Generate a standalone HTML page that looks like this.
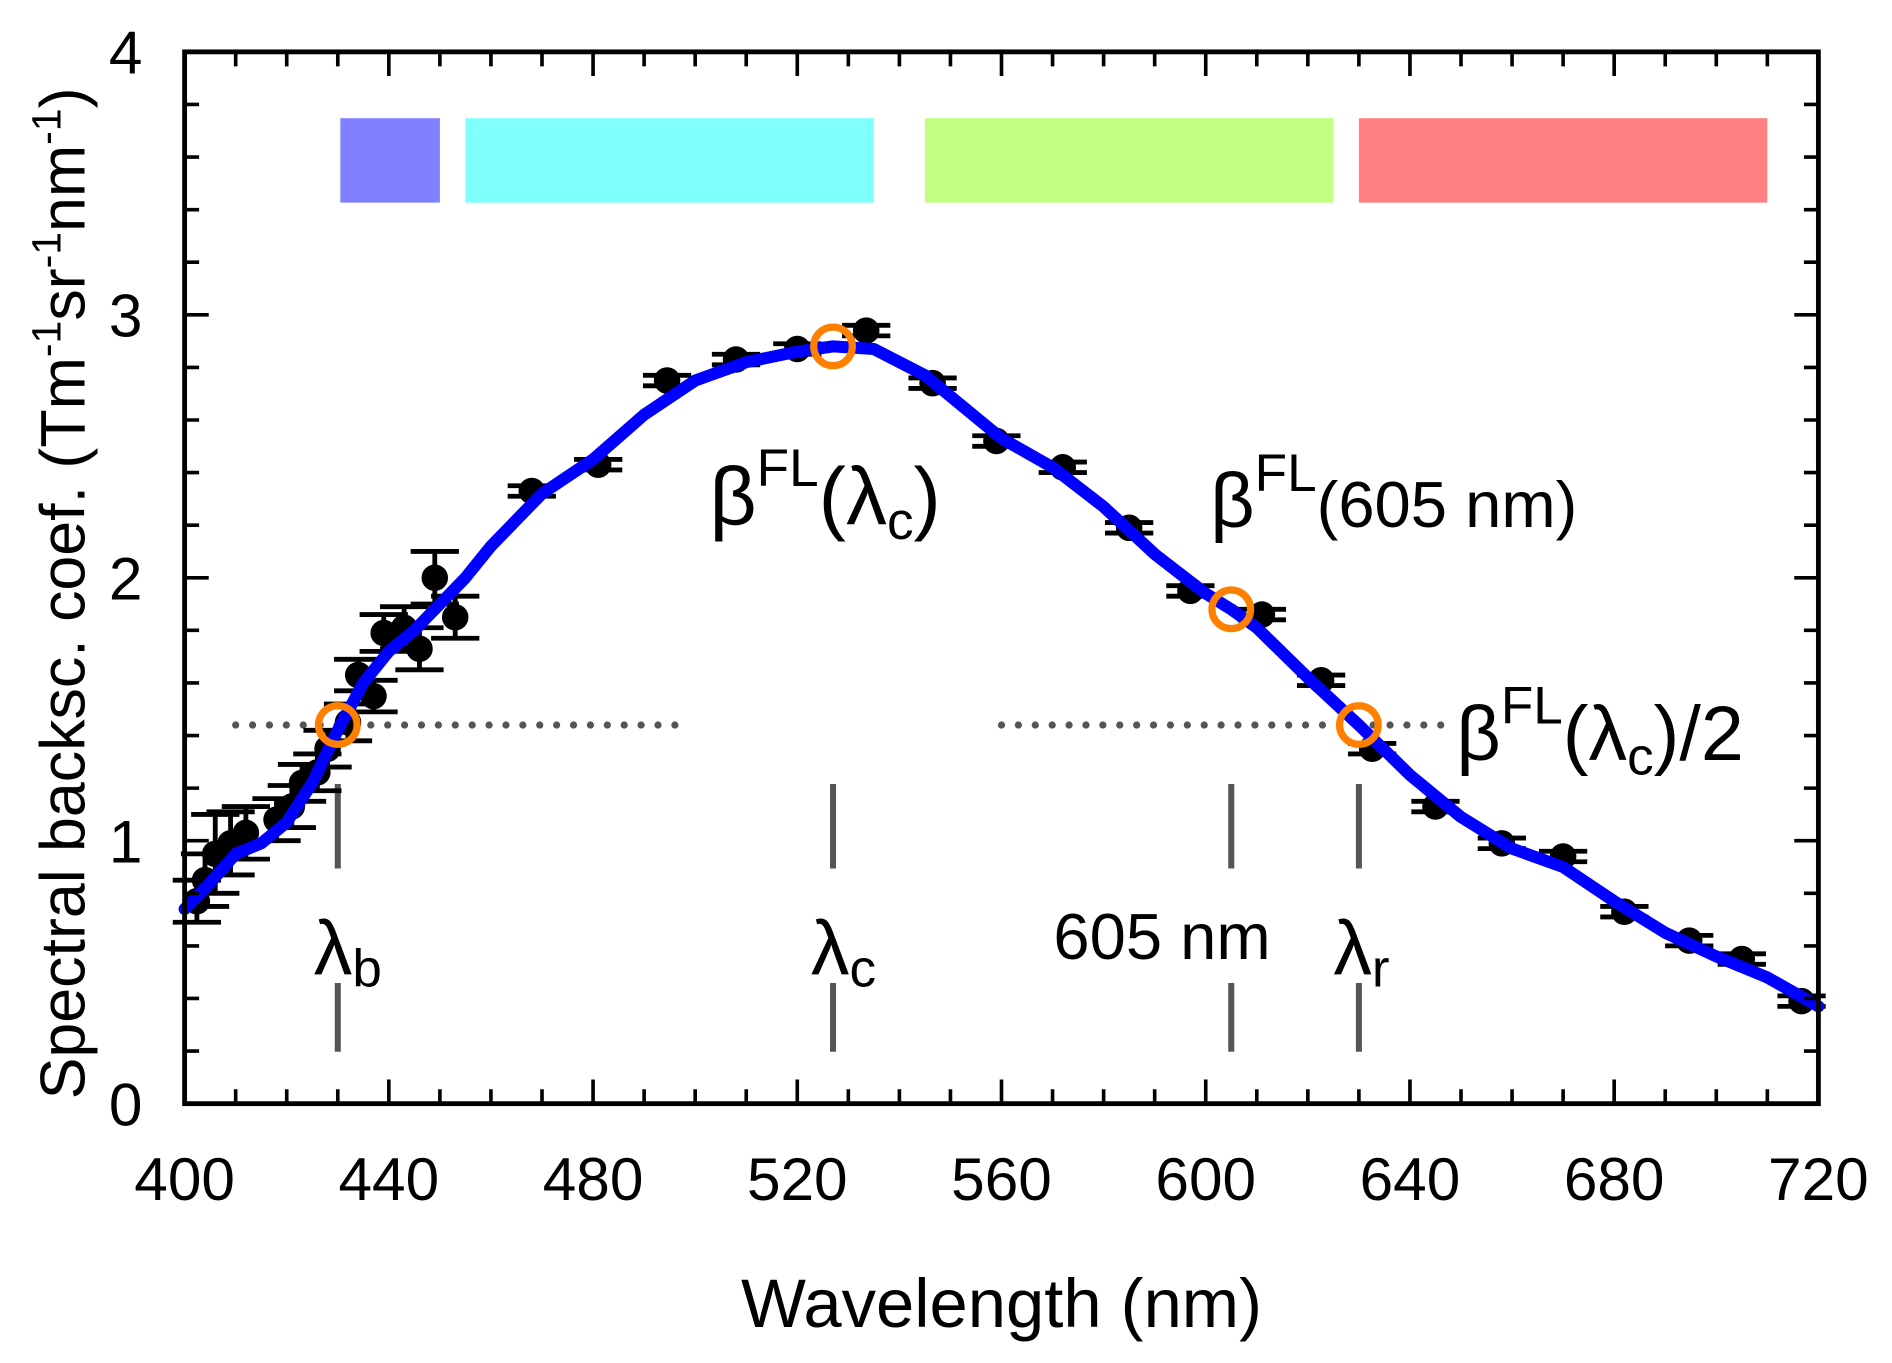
<!DOCTYPE html>
<html><head><meta charset="utf-8"><style>
html,body{margin:0;padding:0;background:#fff;width:1892px;height:1363px;overflow:hidden}
svg{display:block}
text{font-family:"Liberation Sans",sans-serif;fill:#000}
</style></head><body>
<svg id="chart" width="1892" height="1363" viewBox="0 0 1568 1130" preserveAspectRatio="none">
<g id="bands"></g>
<g id="guides"></g>
<g id="errs"></g>
<g id="pts"></g>
<polyline id="curve" fill="none" stroke="#0000ff" stroke-width="10" stroke-linejoin="round" stroke-linecap="round"/>
<g id="marks"></g>
<rect x="153" y="43" width="1354" height="872" fill="none" stroke="#000" stroke-width="4"/>
<g id="ticks"></g>
<g id="labels" font-size="50"></g>
<text x="830" y="1100" font-size="57" text-anchor="middle">Wavelength (nm)</text>
<text transform="translate(70,492) rotate(-90)" font-size="52" text-anchor="middle">Spectral backsc. coef. (Tm<tspan font-size="34" dy="-20">-1</tspan><tspan dy="20">sr</tspan><tspan font-size="34" dy="-20">-1</tspan><tspan dy="20">nm</tspan><tspan font-size="34" dy="-20">-1</tspan><tspan dy="20">)</tspan></text>
<g font-size="64">
<text x="260" y="808">λ<tspan font-size="44" dy="10">b</tspan></text>
<text x="672" y="808">λ<tspan font-size="44" dy="10">c</tspan></text>
<text x="873" y="795" font-size="54">605 nm</text>
<text x="1105" y="808">λ<tspan font-size="44" dy="10">r</tspan></text>
<text x="588" y="435" font-size="68">β<tspan font-size="44" dy="-32">FL</tspan><tspan dy="32">(λ</tspan><tspan font-size="44" dy="12">c</tspan><tspan dy="-12">)</tspan></text>
<text x="1003" y="437">β<tspan font-size="44" dy="-30">FL</tspan><tspan font-size="54" dy="30">(605 nm)</tspan></text>
<text x="1207" y="630">β<tspan font-size="44" dy="-30">FL</tspan><tspan dy="30">(λ</tspan><tspan font-size="44" dy="12">c</tspan><tspan dy="-12">)/2</tspan></text>
</g>
</svg>
<script>
const wl=[402.4,404,406,409,412,418,421,423,426,428,432,434,437,439,443,446,449,453,468,481,494.5,508,520,533.5,546.5,559,572,585,597,611,622.6,632.6,645,658,670,682,694.7,705,716.7];
const val=[0.77,0.85,0.95,0.99,1.03,1.08,1.13,1.22,1.26,1.35,1.45,1.63,1.55,1.79,1.81,1.73,2.0,1.85,2.33,2.43,2.75,2.83,2.87,2.94,2.74,2.52,2.42,2.19,1.95,1.86,1.61,1.35,1.13,0.99,0.94,0.73,0.62,0.55,0.39];
const err=[0.08,0.1,0.15,0.12,0.1,0.08,0.08,0.07,0.07,0.07,0.07,0.06,0.06,0.07,0.08,0.08,0.1,0.08,0.02,0.02,0.02,0.02,0.02,0.02,0.02,0.02,0.02,0.02,0.02,0.02,0.02,0.02,0.02,0.02,0.02,0.02,0.02,0.02,0.02];
const curveWl=[400,405,410,415,420,425,430,435,440,445,450,455,460,470,480,490,500,510,520,527,535,545,560,570,580,590,600,605,610,620,630,640,650,660,670,680,690,700,710,720];
const curveVal=[0.74,0.84,0.95,0.99,1.07,1.22,1.42,1.6,1.72,1.8,1.9,2.0,2.12,2.32,2.45,2.62,2.75,2.82,2.86,2.88,2.87,2.77,2.53,2.42,2.27,2.09,1.94,1.88,1.81,1.62,1.44,1.25,1.09,0.97,0.9,0.77,0.65,0.56,0.48,0.37];
const bandStart=[430.5,455,545,630];
const bandEnd=[450,535,625,710];
const bandColors=['#8080ff','#80ffff','#c0ff80','#ff8080'];
const markWl=[430,527,605,630];
const markVal=[1.44,2.88,1.88,1.44];
const xTicks=[400,440,480,520,560,600,640,680,720];
const yTicks=[0,1,2,3,4];
const NS='http://www.w3.org/2000/svg';
const X=w=>153+(w-400)*1354/320, Y=v=>915-v*218;
function mk(p,t,a){const e=document.createElementNS(NS,t);for(const k in a)e.setAttribute(k,a[k]);document.getElementById(p).appendChild(e);return e;}
bandStart.forEach((s,i)=>{const r=mk('bands','rect',{x:X(s),y:98,width:X(bandEnd[i])-X(s),height:70,fill:bandColors[i]});

});
[[410,499],[560,649]].forEach(([a,b])=>{const l=mk('guides','line',{x1:X(a),x2:X(b),y1:Y(1.44),y2:Y(1.44),stroke:'#555','stroke-width':6,'stroke-dasharray':'0 14','stroke-linecap':'round'});

});
markWl.forEach(w=>{[[650,720],[815,872]].forEach(([a,b])=>{const l=mk('guides','line',{x1:X(w),x2:X(w),y1:a,y2:b,stroke:'#555','stroke-width':5});

});});
wl.forEach((w,i)=>{const x=X(w),y1=Y(val[i]+err[i]),y2=Y(val[i]-err[i]);
const g=mk('errs','path',{d:`M${x},${y1}V${y2}M${x-20},${y1}H${x+20}M${x-20},${y2}H${x+20}`,stroke:'#000','stroke-width':4,fill:'none'});


const c=mk('pts','circle',{cx:x,cy:Y(val[i]),r:11,fill:'#000'});

});
document.getElementById('curve').setAttribute('points',curveWl.map((w,i)=>X(w)+','+Y(curveVal[i])).join(' '));
markWl.forEach((w,i)=>{const c=mk('marks','circle',{cx:X(w),cy:Y(markVal[i]),r:16,fill:'none',stroke:'#ff8000','stroke-width':6});

});
let d='';
for(let w=400;w<=720;w+=10){const L=(w%40==0)?20:12;d+=`M${X(w)},915v${-L}M${X(w)},43v${L}`;}
for(let k=0;k<=20;k++){const v=k*0.2,L=(k%5==0)?20:12;d+=`M153,${Y(v)}h${L}M1507,${Y(v)}h${-L}`;}
mk('ticks','path',{d:d,stroke:'#000','stroke-width':3,fill:'none'});
xTicks.forEach(t=>{const e=mk('labels','text',{x:X(t),y:995,'text-anchor':'middle'});e.textContent=t;

});
yTicks.forEach(t=>{const e=mk('labels','text',{x:118,y:Y(t)+18,'text-anchor':'end'});e.textContent=t;

});
</script>
</body></html>
